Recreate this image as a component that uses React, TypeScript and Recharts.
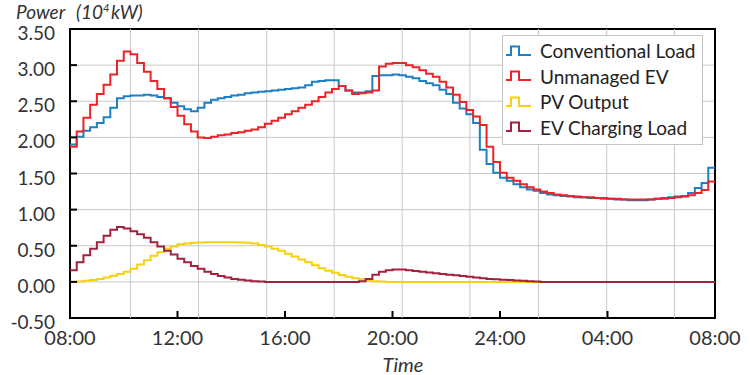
import { LineChart, Line, XAxis, YAxis, CartesianGrid, ReferenceLine, ReferenceArea } from 'recharts'

// 15-minute steps from 08:00 to 08:00 next day (96 values each), units 10^4 kW
const conventionalLoad = [
  1.90, 2.01, 2.09, 2.14, 2.20, 2.28, 2.41, 2.54, 2.57, 2.58,
  2.58, 2.59, 2.58, 2.56, 2.54, 2.48, 2.43, 2.39, 2.36, 2.41,
  2.48, 2.52, 2.54, 2.56, 2.58, 2.59, 2.61, 2.62, 2.63, 2.64,
  2.65, 2.66, 2.67, 2.68, 2.69, 2.72, 2.77, 2.78, 2.79, 2.79,
  2.71, 2.65, 2.62, 2.62, 2.64, 2.85, 2.86, 2.86, 2.87, 2.86,
  2.84, 2.82, 2.78, 2.75, 2.72, 2.66, 2.60, 2.48, 2.40, 2.32,
  2.20, 1.83, 1.63, 1.51, 1.44, 1.40, 1.35, 1.31, 1.28, 1.26,
  1.23, 1.21, 1.20, 1.19, 1.18, 1.17, 1.17, 1.16, 1.16, 1.15,
  1.15, 1.14, 1.14, 1.13, 1.13, 1.13, 1.14, 1.15, 1.16, 1.17,
  1.18, 1.19, 1.23, 1.30, 1.37, 1.58,
]

const unmanagedEv = [
  1.87, 2.08, 2.27, 2.45, 2.60, 2.73, 2.87, 3.06, 3.19, 3.15,
  3.03, 2.91, 2.78, 2.67, 2.54, 2.42, 2.30, 2.18, 2.08, 2.00,
  1.99, 2.01, 2.03, 2.04, 2.06, 2.07, 2.09, 2.11, 2.14, 2.19,
  2.23, 2.27, 2.32, 2.36, 2.41, 2.45, 2.50, 2.56, 2.62, 2.67,
  2.71, 2.65, 2.60, 2.61, 2.62, 2.65, 2.98, 3.02, 3.03, 3.03,
  3.00, 2.97, 2.93, 2.88, 2.84, 2.77, 2.69, 2.59, 2.49, 2.38,
  2.29, 2.17, 1.87, 1.66, 1.51, 1.44, 1.40, 1.35, 1.31, 1.28,
  1.25, 1.23, 1.21, 1.20, 1.19, 1.18, 1.17, 1.17, 1.16, 1.16,
  1.15, 1.15, 1.14, 1.14, 1.14, 1.14, 1.14, 1.15, 1.15, 1.16,
  1.17, 1.18, 1.20, 1.23, 1.27, 1.39,
]

const pvOutput = [
  0.00, 0.005, 0.015, 0.025, 0.04, 0.06, 0.085, 0.11, 0.14, 0.18,
  0.24, 0.30, 0.36, 0.41, 0.46, 0.49, 0.52, 0.53, 0.54, 0.545,
  0.55, 0.55, 0.55, 0.55, 0.55, 0.545, 0.54, 0.53, 0.51, 0.49,
  0.46, 0.43, 0.39, 0.35, 0.31, 0.27, 0.23, 0.19, 0.155, 0.125,
  0.095, 0.07, 0.05, 0.035, 0.02, 0.01, 0.005, 0, 0, 0,
  0, 0, 0, 0, 0, 0, 0, 0, 0, 0,
  0, 0, 0, 0, 0, 0, 0, 0, 0, 0,
  0, 0, 0, 0, 0, 0, 0, 0, 0, 0,
  0, 0, 0, 0, 0, 0, 0, 0, 0, 0,
  0, 0, 0, 0, 0, 0,
]

const evChargingLoad = [
  0.16, 0.27, 0.37, 0.46, 0.55, 0.64, 0.72, 0.76, 0.74, 0.70,
  0.66, 0.61, 0.55, 0.49, 0.43, 0.38, 0.32, 0.27, 0.22, 0.18,
  0.14, 0.11, 0.08, 0.06, 0.04, 0.03, 0.02, 0.01, 0.005, 0,
  0, 0, 0, 0, 0, 0, 0, 0, 0, 0,
  0, 0, 0, 0.01, 0.04, 0.10, 0.14, 0.16, 0.17, 0.17,
  0.16, 0.15, 0.14, 0.13, 0.12, 0.11, 0.10, 0.09, 0.08, 0.07,
  0.06, 0.05, 0.04, 0.035, 0.03, 0.025, 0.02, 0.015, 0.01, 0.005,
  0, 0, 0, 0, 0, 0, 0, 0, 0, 0,
  0, 0, 0, 0, 0, 0, 0, 0, 0, 0,
  0, 0, 0, 0, 0, 0,
]

const xTicks = [8, 12, 16, 20, 24, 28, 32]
const xTickLabels = ['08:00', '12:00', '16:00', '20:00', '24:00', '04:00', '08:00']
const yTicks = [-0.5, 0, 0.5, 1, 1.5, 2, 2.5, 3, 3.5]
const yTickLabels = ['-0.50', '0.00', '0.50', '1.00', '1.50', '2.00', '2.50', '3.00', '3.50']
// vertical grid lines (hours) are not aligned with the labelled ticks
const gridHours = [10.25, 12.78, 15.32, 17.83, 20.36, 22.88, 25.43, 27.97, 30.49]

const SERIES = [
  { key: 'conventional', name: 'Conventional Load', color: '#1f7fc4', values: conventionalLoad },
  { key: 'unmanaged', name: 'Unmanaged EV', color: '#ec2327', values: unmanagedEv },
  { key: 'pv', name: 'PV Output', color: '#f5d10f', values: pvOutput },
  { key: 'ev', name: 'EV Charging Load', color: '#a3203f', values: evChargingLoad },
]

const FONT = 'Lato, "Open Sans", sans-serif'
const TEXT = '#333'

// 97 rows so the last step is drawn to the right edge
const data = Array.from({ length: 97 }, (_, i) => {
  const j = Math.min(i, 95)
  const row: Record<string, number> = { t: 8 + i * 0.25 }
  SERIES.forEach(s => { row[s.key] = s.values[j] })
  return row
})

function XTick(props: any) {
  const { x, y, payload } = props
  const i = xTicks.indexOf(payload.value)
  return (
    <g>
      <line x1={x} x2={x} y1={y} y2={y - 7} stroke="#000" strokeWidth={2} />
      <text x={x} y={y + 27} textAnchor="middle" fontSize={20} fontFamily={FONT} fill={TEXT}>
        {xTickLabels[i]}
      </text>
    </g>
  )
}

function YTick(props: any) {
  const { x, y, payload } = props
  const i = yTicks.indexOf(payload.value)
  return (
    <g>
      <line x1={x} x2={x + 7} y1={y} y2={y} stroke="#000" strokeWidth={2} />
      <text x={x - 15} y={y + 11} textAnchor="end" fontSize={19} fontFamily={FONT} fill={TEXT}>
        {yTickLabels[i]}
      </text>
    </g>
  )
}

function StepIcon({ color }: { color: string }) {
  return (
    <svg width={25} height={12} style={{ display: 'block' }}>
      <path d="M0,10 H5 V1.5 H13 V10 H25" fill="none" stroke={color} strokeWidth={2} />
    </svg>
  )
}

export default function App() {
  return (
    <div style={{ position: 'absolute', left: 0, top: 0, width: 750, height: 375, background: '#fff' }}>
      <LineChart width={750} height={375} data={data} margin={{ top: 29, right: 35, bottom: 0, left: 0 }}>
        <CartesianGrid vertical={false} stroke="#c8c8c8" strokeWidth={1} />
        {gridHours.map(h => (
          <ReferenceLine key={h} x={h} stroke="#c8c8c8" strokeWidth={1} />
        ))}
        <XAxis type="number" dataKey="t" domain={[8, 32]} ticks={xTicks} interval={0}
          height={57} tickSize={0} tickMargin={0} tickLine={false} axisLine={false}
          tick={(p: any) => <XTick {...p} />} allowDataOverflow />
        <YAxis type="number" domain={[-0.5, 3.5]} ticks={yTicks} interval={0}
          width={70} tickSize={0} tickMargin={0} tickLine={false} axisLine={false}
          tick={(p: any) => <YTick {...p} />} allowDataOverflow />
        {SERIES.map(s => (
          <Line key={s.key} dataKey={s.key} name={s.name} type="stepAfter" stroke={s.color}
            strokeWidth={2} dot={false} activeDot={false} isAnimationActive={false} />
        ))}
        <ReferenceArea x1={8} x2={32} y1={-0.5} y2={3.5} fill="none" stroke="#000" strokeWidth={2}
          ifOverflow="visible" />
      </LineChart>

      <svg width={750} height={375} style={{ position: 'absolute', left: 0, top: 0, pointerEvents: 'none' }}>
        <text y={19} fontSize={19} fontStyle="italic" fontFamily={FONT} fill={TEXT}>
          <tspan x={16}>Power</tspan>
          <tspan x={76}>(10</tspan>
          <tspan dy={-7} fontSize={11}>4</tspan>
          <tspan x={111} dy={7}>kW)</tspan>
        </text>
        <text x={403} y={372} textAnchor="middle" fontSize={20} fontStyle="italic" fontFamily={FONT} fill={TEXT}>
          Time
        </text>
      </svg>

      <div style={{
        position: 'absolute', left: 502, top: 35, width: 201, height: 110, boxSizing: 'border-box',
        background: '#fff', border: '1px solid #c4c4c4', paddingTop: 2,
        fontFamily: FONT, fontSize: 19, color: '#222',
      }}>
        {SERIES.map(s => (
          <div key={s.key} style={{ display: 'flex', alignItems: 'center', height: 25.5 }}>
            <div style={{ marginLeft: 3, marginRight: 9 }}><StepIcon color={s.color} /></div>
            <span style={{ whiteSpace: 'nowrap' }}>{s.name}</span>
          </div>
        ))}
      </div>
    </div>
  )
}
